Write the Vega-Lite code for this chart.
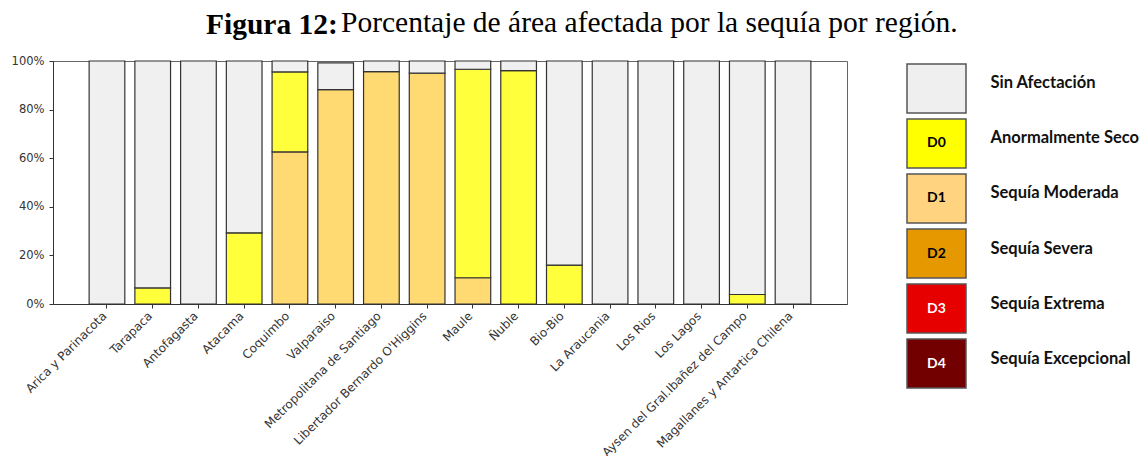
{
  "$schema": "https://vega.github.io/schema/vega-lite/v6.json",
  "background": "white",
  "padding": {"left": 10, "top": 8, "right": 0, "bottom": 0},
  "title": {
    "text": "Porcentaje de área afectada por la sequía por región.",
    "anchor": "start",
    "frame": "group",
    "dx": 288,
    "font": "Liberation Serif",
    "fontSize": 29.5,
    "fontWeight": "normal",
    "color": "black",
    "offset": -29.5
  },
  "spacing": 58,
  "hconcat": [
    {
      "width": 794,
      "height": 243,
      "view": {"stroke": "#666", "strokeWidth": 1},
      "title": {
        "text": "Figura 12:",
        "anchor": "start",
        "frame": "group",
        "dx": 153,
        "font": "Liberation Serif",
        "fontSize": 29.5,
        "fontWeight": "bold",
        "color": "black",
        "offset": 15
      },
      "data": {
        "values": [
          {"region": "Arica y Parinacota", "clase": "Sin Afectación", "pct": 100},
          {"region": "Tarapaca", "clase": "D0", "pct": 6.6},
          {"region": "Tarapaca", "clase": "Sin Afectación", "pct": 93.4},
          {"region": "Antofagasta", "clase": "Sin Afectación", "pct": 100},
          {"region": "Atacama", "clase": "D0", "pct": 29.3},
          {"region": "Atacama", "clase": "Sin Afectación", "pct": 70.7},
          {"region": "Coquimbo", "clase": "D1", "pct": 62.6},
          {"region": "Coquimbo", "clase": "D0", "pct": 32.9},
          {"region": "Coquimbo", "clase": "Sin Afectación", "pct": 4.5},
          {"region": "Valparaiso", "clase": "D1", "pct": 88.2},
          {"region": "Valparaiso", "clase": "Sin Afectación", "pct": 11.0},
          {"region": "Metropolitana de Santiago", "clase": "D1", "pct": 95.6},
          {"region": "Metropolitana de Santiago", "clase": "Sin Afectación", "pct": 4.4},
          {"region": "Libertador Bernardo O'Higgins", "clase": "D1", "pct": 95.0},
          {"region": "Libertador Bernardo O'Higgins", "clase": "Sin Afectación", "pct": 5.0},
          {"region": "Maule", "clase": "D1", "pct": 10.8},
          {"region": "Maule", "clase": "D0", "pct": 85.8},
          {"region": "Maule", "clase": "Sin Afectación", "pct": 3.4},
          {"region": "Ñuble", "clase": "D0", "pct": 96.0},
          {"region": "Ñuble", "clase": "Sin Afectación", "pct": 4.0},
          {"region": "Bio-Bio", "clase": "D0", "pct": 16.0},
          {"region": "Bio-Bio", "clase": "Sin Afectación", "pct": 84.0},
          {"region": "La Araucania", "clase": "Sin Afectación", "pct": 100},
          {"region": "Los Rios", "clase": "Sin Afectación", "pct": 100},
          {"region": "Los Lagos", "clase": "Sin Afectación", "pct": 100},
          {"region": "Aysen del Gral.Ibañez del Campo", "clase": "D0", "pct": 3.9},
          {"region": "Aysen del Gral.Ibañez del Campo", "clase": "Sin Afectación", "pct": 96.1},
          {"region": "Magallanes y Antartica Chilena", "clase": "Sin Afectación", "pct": 100}
        ]
      },
      "transform": [
        {"calculate": "indexof(['D1','D0','Sin Afectación'], datum.clase)", "as": "orden"}
      ],
      "mark": {"type": "bar", "stroke": "#333", "strokeWidth": 1.2},
      "encoding": {
        "x": {
          "field": "region",
          "type": "nominal",
          "sort": null,
          "scale": {"paddingInner": 0.22, "paddingOuter": 0.79},
          "axis": {
            "title": null,
            "labelAngle": -45,
            "labelFont": "DejaVu Sans",
            "labelFontSize": 12,
            "labelColor": "#333",
            "tickColor": "#333",
            "tickSize": 4,
            "domainColor": "#333",
            "labelPadding": 2,
            "labelOffset": -6,
            "labelLimit": 300
          }
        },
        "y": {
          "field": "pct",
          "type": "quantitative",
          "stack": "zero",
          "scale": {"domain": [0, 100], "nice": false},
          "axis": {
            "title": null,
            "grid": false,
            "values": [0, 20, 40, 60, 80, 100],
            "labelExpr": "datum.value + '%'",
            "labelFont": "DejaVu Sans",
            "labelFontSize": 11.5,
            "labelColor": "#333",
            "tickColor": "#333",
            "tickSize": 4,
            "domainColor": "#333",
            "labelPadding": 5
          }
        },
        "color": {
          "field": "clase",
          "type": "nominal",
          "scale": {"domain": ["Sin Afectación", "D0", "D1"], "range": ["#F0F0F0", "#FFFF3C", "#FFD972"]},
          "legend": null
        },
        "order": {"field": "orden", "type": "quantitative"}
      }
    },
    {
      "width": 59,
      "height": 330,
      "view": {"stroke": null},
      "data": {
        "values": [
          {"clase": "Sin Afectación", "codigo": "", "nombre": "Sin Afectación"},
          {"clase": "D0", "codigo": "D0", "nombre": "Anormalmente Seco"},
          {"clase": "D1", "codigo": "D1", "nombre": "Sequía Moderada"},
          {"clase": "D2", "codigo": "D2", "nombre": "Sequía Severa"},
          {"clase": "D3", "codigo": "D3", "nombre": "Sequía Extrema"},
          {"clase": "D4", "codigo": "D4", "nombre": "Sequía Excepcional"}
        ]
      },
      "encoding": {
        "y": {
          "field": "nombre",
          "type": "nominal",
          "sort": null,
          "scale": {"paddingInner": 0.1091, "paddingOuter": 0.0545},
          "axis": {
            "orient": "right",
            "title": null,
            "domain": false,
            "ticks": false,
            "labelPadding": 24,
            "labelFont": "Lato",
            "labelFontWeight": "bold",
            "labelFontSize": 16.5,
            "labelColor": "#111",
            "labelOffset": -5,
            "labelLimit": 300
          }
        }
      },
      "layer": [
        {
          "mark": {"type": "rect", "stroke": "#555", "strokeWidth": 1.5},
          "encoding": {
            "fill": {
              "field": "clase",
              "type": "nominal",
              "scale": {
                "domain": ["Sin Afectación", "D0", "D1", "D2", "D3", "D4"],
                "range": ["#EFEFEF", "#FFFF00", "#FFD37F", "#E69800", "#E60000", "#730000"]
              },
              "legend": null
            }
          }
        },
        {
          "mark": {"type": "text", "font": "Lato", "fontWeight": "bold", "fontSize": 14},
          "encoding": {
            "text": {"field": "codigo"},
            "color": {
              "condition": {"test": "datum.codigo === 'D3' || datum.codigo === 'D4'", "value": "white"},
              "value": "black"
            }
          }
        }
      ]
    }
  ]
}
